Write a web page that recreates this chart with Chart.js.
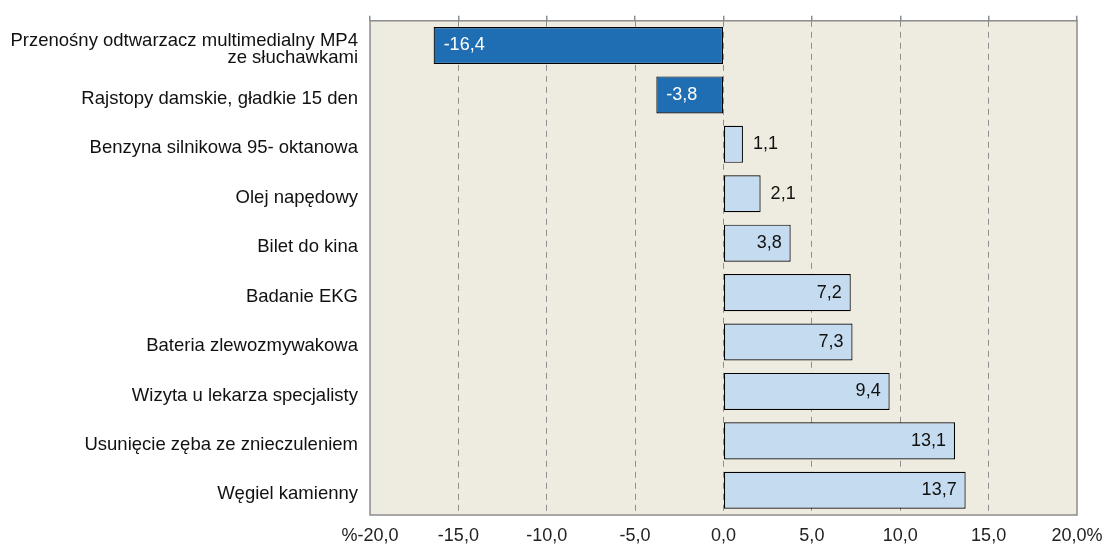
<!DOCTYPE html>
<html>
<head>
<meta charset="utf-8">
<script src="https://cdn.jsdelivr.net/npm/chart.js@4"></script>
<style>
  html, body { margin: 0; padding: 0; background: #fff; }
  #wrap { width: 1113px; height: 545px; }
</style>
</head>
<body>
<div id="wrap"><canvas id="chart"></canvas></div>
<script>
// Dane wykresu
const categories = [
    ['Przenośny odtwarzacz multimedialny MP4', 'ze słuchawkami'],
    'Rajstopy damskie, gładkie 15 den',
    'Benzyna silnikowa 95- oktanowa',
    'Olej napędowy',
    'Bilet do kina',
    'Badanie EKG',
    'Bateria zlewozmywakowa',
    'Wizyta u lekarza specjalisty',
    'Usunięcie zęba ze znieczuleniem',
    'Węgiel kamienny'
];
const values = [-16.4, -3.8, 1.1, 2.1, 3.8, 7.2, 7.3, 9.4, 13.1, 13.7];
const tickValues = [-20, -15, -10, -5, 0, 5, 10, 15, 20];

const darkBlue = '#1f6db3';
const lightBlue = '#c5dbef';
const fontFamily = 'Arial, "Liberation Sans", sans-serif';

function formatPl(v) {
    return v.toFixed(1).replace('.', ',');
}

function tickLabel(v) {
    if (v === -20) return '%-20,0';
    if (v === 20) return '20,0%';
    return formatPl(v);
}

// Tło i ramka obszaru wykresu
const areaPlugin = {
    id: 'area',
    beforeDraw(chart) {
        const a = chart.chartArea;
        const ctx = chart.ctx;
        ctx.save();
        ctx.fillStyle = '#eeebe0';
        ctx.fillRect(a.left, a.top, a.right - a.left, a.bottom - a.top);
        ctx.restore();
    },
    afterDraw(chart) {
        const a = chart.chartArea;
        const ctx = chart.ctx;
        ctx.save();
        ctx.strokeStyle = '#8c8c8c';
        ctx.lineWidth = 1.5;
        ctx.strokeRect(a.left, a.top, a.right - a.left, a.bottom - a.top);
        ctx.restore();
    }
};

// Etykiety wartości
const valueLabels = {
    id: 'valueLabels',
    afterDatasetsDraw(chart) {
        const ctx = chart.ctx;
        const meta = chart.getDatasetMeta(0);
        ctx.save();
        ctx.font = '18px ' + fontFamily;
        ctx.textBaseline = 'middle';
        meta.data.forEach(function(bar, i) {
            const v = values[i];
            const txt = formatPl(v);
            if (v < 0) {
                ctx.fillStyle = '#ffffff';
                ctx.textAlign = 'left';
                ctx.fillText(txt, bar.x + 10, bar.y);
            } else if (v < 3) {
                ctx.fillStyle = '#111111';
                ctx.textAlign = 'left';
                ctx.fillText(txt, bar.x + 10, bar.y);
            } else {
                ctx.fillStyle = '#111111';
                ctx.textAlign = 'right';
                ctx.fillText(txt, bar.x - 9, bar.y);
            }
        });
        ctx.restore();
    }
};

const ctx = document.getElementById('chart').getContext('2d');
new Chart(ctx, {
    type: 'bar',
    data: {
        labels: categories,
        datasets: [{
            data: values,
            backgroundColor: values.map(v => v < 0 ? darkBlue : lightBlue),
            borderColor: '#000000',
            borderWidth: 1.2,
            borderSkipped: false,
            categoryPercentage: 1.0,
            barPercentage: 0.75
        }]
    },
    options: {
        indexAxis: 'y',
        responsive: true,
        maintainAspectRatio: false,
        animation: false,
        layout: { padding: { right: 36 } },
        plugins: {
            legend: { display: false },
            tooltip: { enabled: false }
        },
        scales: {
            x: {
                type: 'linear',
                position: 'bottom',
                min: -20,
                max: 20,
                afterBuildTicks: function(scale) {
                    scale.ticks = tickValues.map(v => ({ value: v }));
                },
                afterFit: function(scale) { scale.height = 30; },
                grid: {
                    color: function(c) {
                        return (c.tick && (c.tick.value === -20 || c.tick.value === 20)) ? 'rgba(0,0,0,0)' : '#8f8f8f';
                    },
                    lineWidth: 1,
                    drawTicks: false
                },
                border: { display: false, dash: [6, 5] },
                ticks: {
                    padding: 10,
                    color: '#222222',
                    font: { size: 18, family: fontFamily },
                    callback: function(v) { return tickLabel(v); }
                }
            },
            x2: {
                type: 'linear',
                position: 'top',
                min: -20,
                max: 20,
                afterBuildTicks: function(scale) {
                    scale.ticks = tickValues.map(v => ({ value: v }));
                },
                afterFit: function(scale) { scale.height = 18; },
                grid: {
                    drawOnChartArea: false,
                    drawTicks: true,
                    tickLength: 5,
                    color: '#8c8c8c',
                    lineWidth: 1.5
                },
                border: { display: false },
                ticks: {
                    color: 'rgba(0,0,0,0)',
                    font: { size: 1 },
                    callback: function() { return ''; }
                }
            },
            y: {
                afterFit: function(scale) { scale.width = 370; },
                grid: { display: false, drawTicks: false },
                border: { display: false },
                ticks: {
                    padding: 12,
                    labelOffset: 4,
                    color: '#111111',
                    font: { size: 18.5, family: fontFamily, lineHeight: 0.95 }
                }
            }
        }
    },
    plugins: [areaPlugin, valueLabels]
});
</script>
</body>
</html>
